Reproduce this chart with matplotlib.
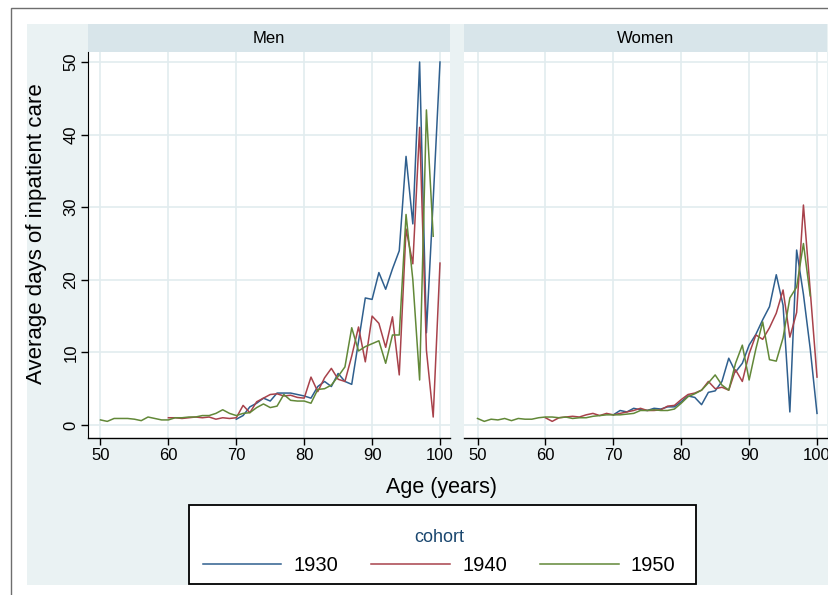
"""Average days of inpatient care by age, cohort lines, panels for men and women."""
import matplotlib
matplotlib.use("Agg")
import matplotlib.pyplot as plt
from matplotlib.patches import Rectangle

plt.rcParams["font.family"] = ["Liberation Sans", "DejaVu Sans"]

# --- data ----------------------------------------------------------------
cohorts = ["1930", "1940", "1950"]
first_age = {"1930": 70, "1940": 60, "1950": 50}

men_1930 = [0.8, 1.3, 2.5, 3.0, 3.7, 3.3, 4.4, 4.4, 4.4, 4.2,
            4.0, 3.7, 5.3, 6.0, 5.3, 7.1, 6.0, 5.6, 11.5, 17.5,
            17.3, 21.0, 18.7, 21.5, 24.0, 37.0, 27.7, 50.0, 12.7, 31.0,
            50.0]
men_1940 = [1.0, 1.0, 0.9, 1.0, 1.1, 1.0, 1.1, 0.8, 1.0, 0.9,
            1.0, 2.7, 1.7, 3.2, 3.7, 4.2, 4.3, 4.0, 4.1, 3.8,
            3.7, 6.6, 4.6, 6.5, 7.8, 6.3, 6.0, 9.5, 13.5, 8.7,
            15.0, 14.0, 10.7, 14.9, 6.9, 27.0, 22.2, 41.0, 10.3, 1.1,
            22.3]
men_1950 = [0.7, 0.5, 0.9, 0.9, 0.9, 0.8, 0.6, 1.1, 0.9, 0.7,
            0.7, 1.0, 1.0, 1.1, 1.1, 1.3, 1.3, 1.6, 2.1, 1.6,
            1.3, 1.6, 1.7, 2.4, 2.9, 2.4, 2.6, 4.2, 3.4, 3.3,
            3.3, 3.0, 4.9, 5.0, 5.5, 6.7, 8.0, 13.4, 10.2, 10.8,
            11.2, 11.6, 8.5, 12.4, 12.4, 29.0, 20.0, 6.2, 43.4, 26.0]

women_1930 = [1.4, 2.0, 1.8, 2.3, 2.1, 2.0, 2.3, 2.2, 2.5, 2.5,
              3.2, 4.0, 3.8, 2.8, 4.5, 4.7, 6.0, 9.2, 7.3, 8.5,
              11.0, 12.5, 14.5, 16.3, 20.7, 16.5, 1.8, 24.1, 18.0, 10.5,
              1.6]
women_1940 = [1.0, 0.5, 1.0, 1.1, 1.2, 1.1, 1.4, 1.6, 1.3, 1.6,
              1.4, 1.6, 1.8, 2.0, 2.3, 2.0, 2.0, 2.1, 2.6, 2.7,
              3.5, 4.2, 4.4, 4.8, 6.0, 5.0, 5.2, 4.8, 7.6, 6.0,
              9.8, 12.4, 11.8, 13.4, 15.4, 18.6, 12.1, 15.5, 30.3, 18.5,
              6.6]
women_1950 = [0.9, 0.5, 0.8, 0.7, 0.9, 0.6, 0.9, 0.8, 0.8, 1.0,
              1.1, 1.1, 1.0, 1.1, 0.9, 1.0, 1.0, 1.2, 1.3, 1.4,
              1.4, 1.4, 1.5, 1.6, 2.0, 2.0, 2.1, 2.0, 2.0, 2.2,
              3.0, 3.9, 4.3, 4.8, 5.8, 6.9, 5.5, 4.8, 8.5, 11.0,
              6.2, 10.5, 14.2, 9.0, 8.8, 12.0, 17.5, 19.0, 25.0, 17.8]

panels = {
    "Men": {"1930": men_1930, "1940": men_1940, "1950": men_1950},
    "Women": {"1930": women_1930, "1940": women_1940, "1950": women_1950},
}
line_colors = {"1930": "#2F5F8E", "1940": "#A8424B", "1950": "#628838"}

W, H = 829, 595
BG = "#EAF2F3"
STRIP = "#D8E5EA"
GRID = "#E2ECEF"


def px_rect(x0, y0, x1, y1):
    return [x0 / W, 1 - y1 / H, (x1 - x0) / W, (y1 - y0) / H]


def main():
    fig = plt.figure(figsize=(W / 100, H / 100), dpi=100)
    fig.patch.set_facecolor("white")
    # outer frame and light graph region, kept behind the axes
    fig.patches.append(Rectangle((11 / W, -0.05), 1.1, 1 - 8 / H + 0.05,
                                 transform=fig.transFigure, fill=False,
                                 edgecolor="#6E6E6E", linewidth=1.0,
                                 zorder=-10))
    fig.patches.append(Rectangle((27 / W, 1 - 585 / H), 1.0, (585 - 24) / H,
                                 transform=fig.transFigure, facecolor=BG,
                                 edgecolor="none", zorder=-9))

    boxes = {"Men": (88, 450, 48.16), "Women": (464, 827, 48.01)}
    handles = []
    for name, (x0, x1, xlo) in boxes.items():
        strip = fig.add_axes(px_rect(x0, 24, x1, 52))
        strip.set_facecolor(STRIP)
        strip.set_xticks([])
        strip.set_yticks([])
        for s in strip.spines.values():
            s.set_visible(False)
        strip.text(0.5, 0.47, name, ha="center", va="center", fontsize=12,
                   transform=strip.transAxes)

        ax = fig.add_axes(px_rect(x0, 52, x1, 438))
        ax.set_facecolor("white")
        handles = []
        for c in cohorts:
            vals = panels[name][c]
            ages = list(range(first_age[c], first_age[c] + len(vals)))
            (ln,) = ax.plot(ages, vals, color=line_colors[c], linewidth=1.1)
            handles.append(ln)

        ax.set_xlim(xlo, xlo + (x1 - x0) / 6.79)
        ax.set_ylim(-1.79, 51.38)
        ax.set_xticks(range(50, 101, 10))
        ax.set_yticks(range(0, 51, 10))
        ax.grid(True, color=GRID, linewidth=1.2)
        ax.set_axisbelow(True)
        for side in ("top", "right"):
            ax.spines[side].set_visible(False)
        ax.spines["bottom"].set_linewidth(1.0)
        ax.tick_params(axis="both", length=5, width=1.0, labelsize=12, pad=2)
        ax.tick_params(axis="y", labelrotation=90)
        if name == "Women":
            ax.spines["left"].set_visible(False)
            ax.tick_params(axis="y", left=False, labelleft=False)
        else:
            for lab in ax.get_yticklabels():
                lab.set_va("center")

    fig.text(37 / W, 1 - 234 / H, "Average days of inpatient care",
             rotation=90, ha="center", va="center", fontsize=16)
    fig.text(441 / W, 1 - 488 / H, "Age (years)", ha="center", va="center",
             fontsize=15.5)

    fig.patches.append(Rectangle((189 / W, 1 - 584 / H), (696 - 189) / W,
                                 (584 - 505) / H, transform=fig.transFigure,
                                 facecolor="white", edgecolor="black",
                                 linewidth=1.3, zorder=4))
    leg = fig.legend(handles, cohorts, title="cohort", ncol=3,
                     loc="lower center", bbox_to_anchor=(439 / W, 1 - 575 / H),
                     frameon=False, fontsize=14.5, title_fontsize=13,
                     handlelength=3.9, handletextpad=0.6, columnspacing=1.65,
                     borderpad=0, borderaxespad=0)
    leg.set_zorder(5)
    leg.get_title().set_color("#1A476F")

    fig.savefig("out.png", dpi=100)
    plt.close(fig)


if __name__ == "__main__":
    main()
